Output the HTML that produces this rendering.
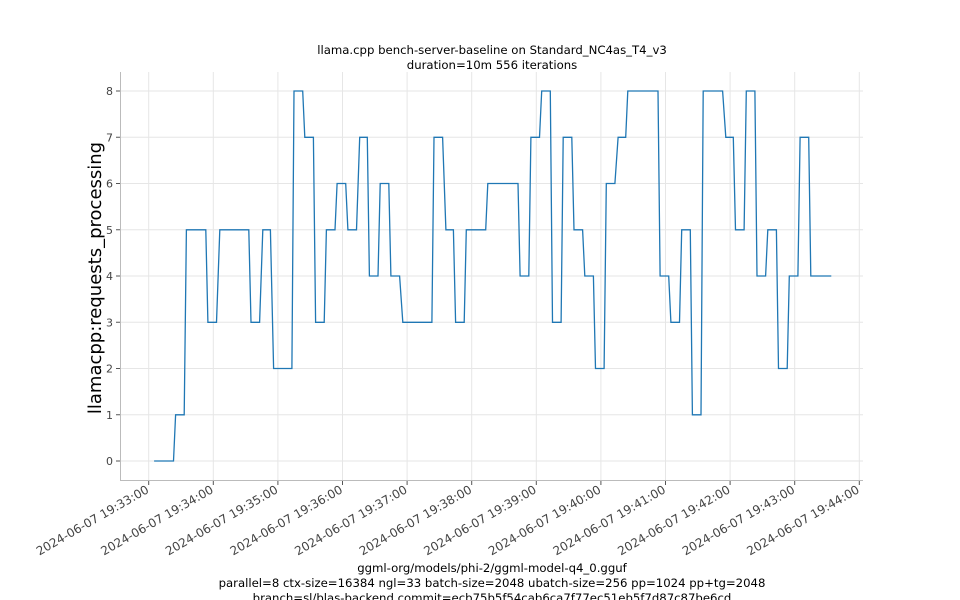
<!DOCTYPE html>
<html><head><meta charset="utf-8"><style>
body{margin:0;background:#fff;}
svg{display:block;font-family:"DejaVu Sans","Liberation Sans",sans-serif;}
</style></head><body>
<svg id="chart" width="960" height="600" viewBox="0 0 960 600" xmlns="http://www.w3.org/2000/svg">
<text x="492" y="54" text-anchor="middle" font-size="11.7" fill="#000">llama.cpp bench-server-baseline on Standard_NC4as_T4_v3</text>
<text x="492" y="69" text-anchor="middle" font-size="11.7" fill="#000">duration=10m 556 iterations</text>
<g id="grid"></g>
<line x1="120.5" y1="72" x2="120.5" y2="481" stroke="#bbb" stroke-width="1"/>
<line x1="120" y1="480.5" x2="863" y2="480.5" stroke="#bbb" stroke-width="1"/>
<g id="yticks"></g>
<g id="xticks"></g>
<path id="series" fill="none" stroke="#1f77b4" stroke-width="1.3" stroke-linejoin="miter"/>
<text transform="translate(101,278) rotate(-90)" text-anchor="middle" font-size="18" fill="#000">llamacpp:requests_processing</text>
<text x="492" y="572" text-anchor="middle" font-size="11.7" fill="#000">ggml-org/models/phi-2/ggml-model-q4_0.gguf</text>
<text x="492" y="587" text-anchor="middle" font-size="11.7" fill="#000">parallel=8 ctx-size=16384 ngl=33 batch-size=2048 ubatch-size=256 pp=1024 pp+tg=2048</text>
<text x="492" y="602" text-anchor="middle" font-size="11.7" fill="#000">branch=sl/blas-backend commit=ecb75b5f54cab6ca7f77ec51eb5f7d87c87be6cd</text>
</svg>
<script>
// seconds after 19:33:00
const segStart = [5,25,35,55,66,95,106,116,135,145,155,165,175,185,196,205,215,225,236,265,276,285,295,315,345,355,365,375,385,395,405,415,425,436,445,475,485,495,505,515,536,545,555,565,575,585,595,605,615];
const segEnd   = [23,33,53,63,93,103,113,133,143,153,163,173,183,193,203,213,223,233,263,273,283,293,313,343,353,363,373,383,393,403,413,423,433,443,473,483,493,503,513,533,543,553,563,573,583,593,603,613,634];
const values   = [0,1,5,3,5,3,5,2,8,7,3,5,6,5,7,4,6,4,3,7,5,3,5,6,4,7,8,3,7,5,4,2,6,7,8,4,3,5,1,8,7,5,8,4,5,2,4,7,4];
const yTicks = [0,1,2,3,4,5,6,7,8];
const xTickMinutes = [0,1,2,3,4,5,6,7,8,9,10,11];
const xTickLabels = ["2024-06-07 19:33:00","2024-06-07 19:34:00","2024-06-07 19:35:00","2024-06-07 19:36:00","2024-06-07 19:37:00","2024-06-07 19:38:00","2024-06-07 19:39:00","2024-06-07 19:40:00","2024-06-07 19:41:00","2024-06-07 19:42:00","2024-06-07 19:43:00","2024-06-07 19:44:00"];

const NS="http://www.w3.org/2000/svg";
function xs(sec){return 148.7+sec*(64.6/60);}
function ys(v){return 461-v*46.25;}
const grid=document.getElementById('grid'), yt=document.getElementById('yticks'), xt=document.getElementById('xticks');
function mk(tag,attrs,parent){const e=document.createElementNS(NS,tag);for(const k in attrs)e.setAttribute(k,attrs[k]);parent.appendChild(e);return e;}
yTicks.forEach(v=>{
  const y=ys(v);
  const g=mk('line',{x1:121,x2:863,y1:y,y2:y,stroke:'#e6e6e6','stroke-width':1},grid);
  
  
  const t=mk('line',{x1:116,x2:120,y1:y,y2:y,stroke:'#555','stroke-width':1},yt);
  
  
  const l=mk('text',{x:113,y:y+4,'text-anchor':'end','font-size':11,fill:'#444'},yt);
  l.textContent=v;
  
  
});
xTickMinutes.forEach((m,i)=>{
  const x=xs(m*60);
  const g=mk('line',{x1:x,x2:x,y1:72,y2:480,stroke:'#e6e6e6','stroke-width':1},grid);
  
  
  const t=mk('line',{x1:x,x2:x,y1:481,y2:485,stroke:'#555','stroke-width':1},xt);
  
  
  const l=mk('text',{'text-anchor':'end','font-size':12,fill:'#444',transform:`translate(${x+1},${492}) rotate(-30)`},xt);
  l.textContent=xTickLabels[i];
  
  
});
let d='';
values.forEach((v,i)=>{
  const y=ys(v);
  d+=(i===0?'M':'L')+xs(segStart[i]).toFixed(1)+','+y.toFixed(1)+'L'+xs(segEnd[i]).toFixed(1)+','+y.toFixed(1);
});
document.getElementById('series').setAttribute('d',d);
</script>
</body></html>
